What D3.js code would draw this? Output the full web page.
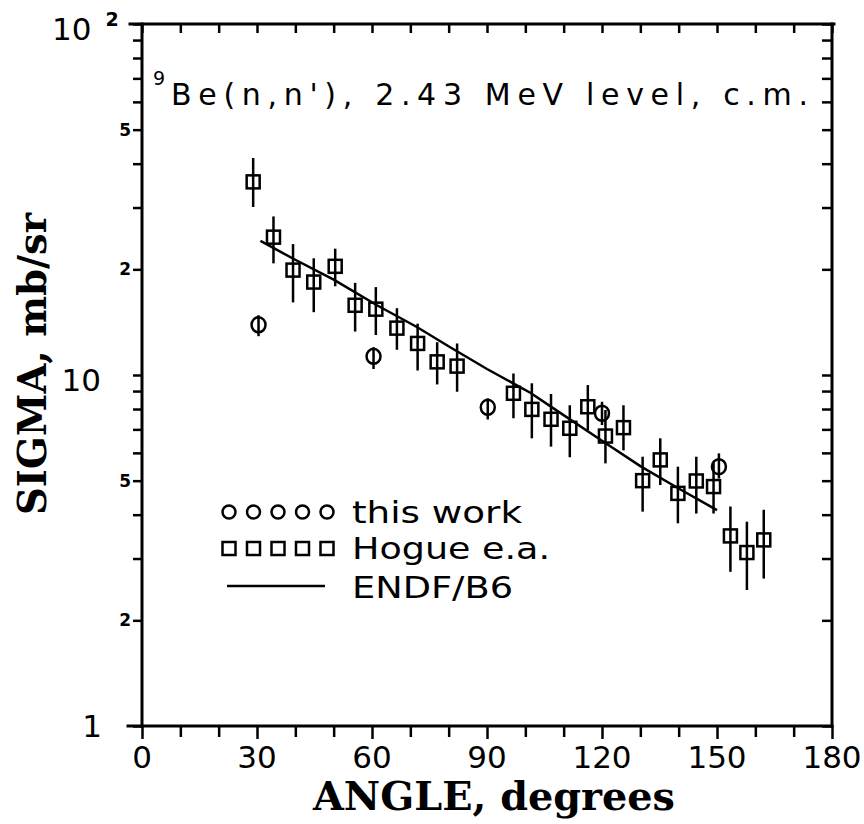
<!DOCTYPE html>
<html>
<head>
<meta charset="utf-8">
<title>9Be(n,n') 2.43 MeV level</title>
<script src="https://cdn.jsdelivr.net/npm/d3@7"></script>
<style>
  body { margin: 0; background: #fff; }
  svg text { fill: #000; }
  .sans { font-family: "DejaVu Sans", sans-serif; }
  .slab { font-family: "DejaVu Serif", serif; font-weight: bold; }
</style>
</head>
<body>
<div id="chart"></div>
<script>
// Hogue e.a. (squares)
const hogueAngle = [29.0, 34.3, 39.4, 44.8, 50.4, 55.6, 61.0, 66.5, 71.9, 77.0, 82.2, 96.9, 101.7, 106.7, 111.6, 116.3, 120.9, 125.6, 130.6, 135.2, 139.8, 144.6, 149.1, 153.5, 157.8, 162.2];
const hogueSigma = [35.5, 24.7, 19.9, 18.4, 20.4, 15.8, 15.4, 13.6, 12.3, 10.9, 10.6, 8.87, 7.98, 7.48, 7.05, 8.12, 6.70, 7.08, 5.00, 5.73, 4.60, 4.99, 4.81, 3.48, 3.12, 3.39];
const hogueHi = [41.5, 28.3, 23.6, 21.5, 22.9, 18.3, 17.8, 15.5, 14.0, 12.4, 12.3, 10.1, 9.47, 8.83, 8.2, 9.36, 7.95, 8.2, 5.85, 6.6, 5.48, 5.85, 5.66, 4.22, 3.82, 4.13];
const hogueLo = [30.1, 20.8, 16.1, 15.1, 17.9, 13.3, 13.0, 11.8, 10.3, 9.4, 8.96, 7.53, 6.6, 6.25, 5.83, 6.97, 5.6, 6.1, 4.08, 4.86, 3.78, 4.03, 4.03, 2.75, 2.44, 2.63];

// this work (circles)
const workAngle = [30.4, 60.4, 90.2, 120.0, 150.5];
const workSigma = [13.9, 11.3, 8.09, 7.78, 5.48];
const workHi = [14.8, 12.0, 8.58, 8.39, 5.98];
const workLo = [12.9, 10.4, 7.47, 7.2, 5.07];

// ENDF/B6 curve
const endfAngle = [30.9, 39.6, 50.0, 61.3, 71.7, 80.4, 90.0, 101.3, 109.1, 120.0, 130.0, 140.0, 150.0];
const endfSigma = [24.1, 21.4, 18.7, 15.8, 13.7, 12.0, 10.4, 8.9, 7.8, 6.5, 5.5, 4.75, 4.12];

const xTicks = [0, 30, 60, 90, 120, 150, 180];
const ySmallTicks = [2, 5, 20, 50];
const ySmallText = ["2", "5", "2", "5"];
const legendLabels = ["this work", "Hogue e.a.", "ENDF/B6"];

const W = 864, H = 824;
const pLeft = 142, pRight = 832, pTop = 24, pBottom = 726;

const svg = d3.select("#chart").append("svg")
    .attr("width", W).attr("height", H);

const x = d3.scaleLinear().domain([0, 180]).range([pLeft, pRight]);
const y = d3.scaleLog().domain([1, 100]).range([pBottom, pTop]);

const minorX = d3.range(0, 181, 10);
const minorY = d3.range(1, 10).concat(d3.range(10, 101, 10));

// ticks
const bottomAxis = svg.append("g")
    .attr("transform", "translate(0," + pBottom + ")")
    .call(d3.axisBottom(x).tickValues(minorX).tickSize(11).tickFormat("").tickSizeOuter(0));
bottomAxis.selectAll(".tick line")
    .attr("y2", d => d % 30 === 0 ? 13 : 11);

svg.append("g")
    .attr("transform", "translate(0," + pTop + ")")
    .call(d3.axisTop(x).tickValues(minorX).tickSize(-9).tickFormat("").tickSizeOuter(0));

svg.append("g")
    .attr("transform", "translate(" + pLeft + ",0)")
    .call(d3.axisLeft(y).tickValues(minorY).tickSize(9).tickFormat("").tickSizeOuter(0));

svg.append("g")
    .attr("transform", "translate(" + pRight + ",0)")
    .call(d3.axisRight(y).tickValues(minorY).tickSize(-10).tickFormat("").tickSizeOuter(0));

svg.selectAll(".domain").remove();
svg.selectAll(".tick line").attr("stroke", "#000").attr("stroke-width", 2.5);

// frame
const frame = svg.append("g").attr("stroke", "#000").attr("stroke-width", 3).attr("stroke-linecap", "square");
frame.append("line").attr("x1", pLeft - 12).attr("x2", pRight + 2).attr("y1", pTop).attr("y2", pTop);
frame.append("line").attr("x1", pLeft - 14).attr("x2", pRight).attr("y1", pBottom).attr("y2", pBottom);
frame.append("line").attr("x1", pLeft).attr("x2", pLeft).attr("y1", pTop).attr("y2", pBottom);
frame.append("line").attr("x1", pRight).attr("x2", pRight).attr("y1", pTop).attr("y2", pBottom);

// x tick labels
svg.append("g").selectAll("text")
    .data(xTicks).enter()
    .append("text")
    .attr("class", "sans")
    .attr("x", d => x(d))
    .attr("y", 768)
    .attr("text-anchor", "middle")
    .style("font-size", "31px")
    .text(d => d);

// y tick labels
svg.append("text").attr("class", "sans")
    .attr("x", 102).attr("y", y(1) + 11)
    .attr("text-anchor", "end").style("font-size", "31px").text("1");
svg.append("text").attr("class", "sans")
    .attr("x", 101).attr("y", y(10) + 16)
    .attr("text-anchor", "end").style("font-size", "31px").text("10");
const lab100 = svg.append("text").attr("class", "sans")
    .attr("x", 52).attr("y", y(100) + 16)
    .style("font-size", "31px");
lab100.append("tspan").text("10");
lab100.append("tspan").attr("dx", 14).attr("dy", -14).style("font-size", "19px").style("font-weight", "bold").text("2");

svg.append("g").selectAll("text")
    .data(ySmallTicks).enter()
    .append("text")
    .attr("class", "sans")
    .attr("x", 131)
    .attr("y", d => y(d) + 6)
    .attr("text-anchor", "end")
    .style("font-size", "17px")
    .style("font-weight", "bold")
    .text((d, i) => ySmallText[i]);

// axis titles
svg.append("text").attr("class", "slab")
    .attr("x", 494).attr("y", 810)
    .attr("text-anchor", "middle")
    .attr("textLength", 362).attr("lengthAdjust", "spacingAndGlyphs")
    .style("font-size", "40px")
    .style("white-space", "pre")
    .text("ANGLE, degrees");

svg.append("text").attr("class", "slab")
    .attr("transform", "translate(46,364) rotate(-90)")
    .attr("text-anchor", "middle")
    .attr("textLength", 302).attr("lengthAdjust", "spacingAndGlyphs")
    .style("font-size", "40px")
    .style("white-space", "pre")
    .text("SIGMA, mb/sr");

// title
svg.append("text").attr("class", "sans")
    .attr("x", 153).attr("y", 85)
    .style("font-size", "19px")
    .text("9");
svg.append("text").attr("class", "sans")
    .attr("x", 171).attr("y", 105)
    .attr("textLength", 637).attr("lengthAdjust", "spacing")
    .style("font-size", "30px")
    .text("Be(n,n'), 2.43 MeV level, c.m.");

// ENDF curve
const line = d3.line().x(d => x(d[0])).y(d => y(d[1]));
svg.append("path")
    .datum(d3.zip(endfAngle, endfSigma))
    .attr("d", line)
    .attr("fill", "none")
    .attr("stroke", "#000")
    .attr("stroke-width", 2.5);

// Hogue squares with error bars
const hogue = hogueAngle.map((a, i) => ({ a: a, s: hogueSigma[i], hi: hogueHi[i], lo: hogueLo[i] }));
const hg = svg.append("g").attr("stroke", "#000").attr("stroke-width", 2.5).attr("fill", "none");
hg.selectAll("line")
    .data(hogue).enter()
    .append("line")
    .attr("x1", d => x(d.a)).attr("x2", d => x(d.a))
    .attr("y1", d => y(d.lo)).attr("y2", d => y(d.hi));
hg.selectAll("rect")
    .data(hogue).enter()
    .append("rect")
    .attr("x", d => x(d.a) - 6.5)
    .attr("y", d => y(d.s) - 6.5)
    .attr("width", 13).attr("height", 13);

// this work circles with error bars
const work = workAngle.map((a, i) => ({ a: a, s: workSigma[i], hi: workHi[i], lo: workLo[i] }));
const wg = svg.append("g").attr("stroke", "#000").attr("stroke-width", 2.5).attr("fill", "none");
wg.selectAll("line")
    .data(work).enter()
    .append("line")
    .attr("x1", d => x(d.a)).attr("x2", d => x(d.a))
    .attr("y1", d => y(d.lo)).attr("y2", d => y(d.hi));
wg.selectAll("ellipse")
    .data(work).enter()
    .append("ellipse")
    .attr("cx", d => x(d.a))
    .attr("cy", d => y(d.s))
    .attr("rx", 7).attr("ry", 7.5);

// legend
const legX = d3.range(5).map(i => 229 + i * 24.5);
const lg = svg.append("g").attr("stroke", "#000").attr("stroke-width", 2.5).attr("fill", "none");
lg.selectAll("ellipse")
    .data(legX).enter()
    .append("ellipse")
    .attr("cx", d => d).attr("cy", 512)
    .attr("rx", 6.5).attr("ry", 6.5);
lg.selectAll("rect")
    .data(legX).enter()
    .append("rect")
    .attr("x", d => d - 6.5).attr("y", 542)
    .attr("width", 13).attr("height", 13);
lg.append("line")
    .attr("x1", 227).attr("x2", 325)
    .attr("y1", 586).attr("y2", 586);

const legBase = [523, 559, 598];
const legLen = [170, 198, 161];
svg.append("g").selectAll("text")
    .data(legendLabels).enter()
    .append("text")
    .attr("class", "sans")
    .attr("x", 352)
    .attr("y", (d, i) => legBase[i])
    .attr("textLength", (d, i) => legLen[i])
    .attr("lengthAdjust", "spacingAndGlyphs")
    .style("font-size", "31px")
    .style("white-space", "pre")
    .text(d => d);
</script>
</body>
</html>
